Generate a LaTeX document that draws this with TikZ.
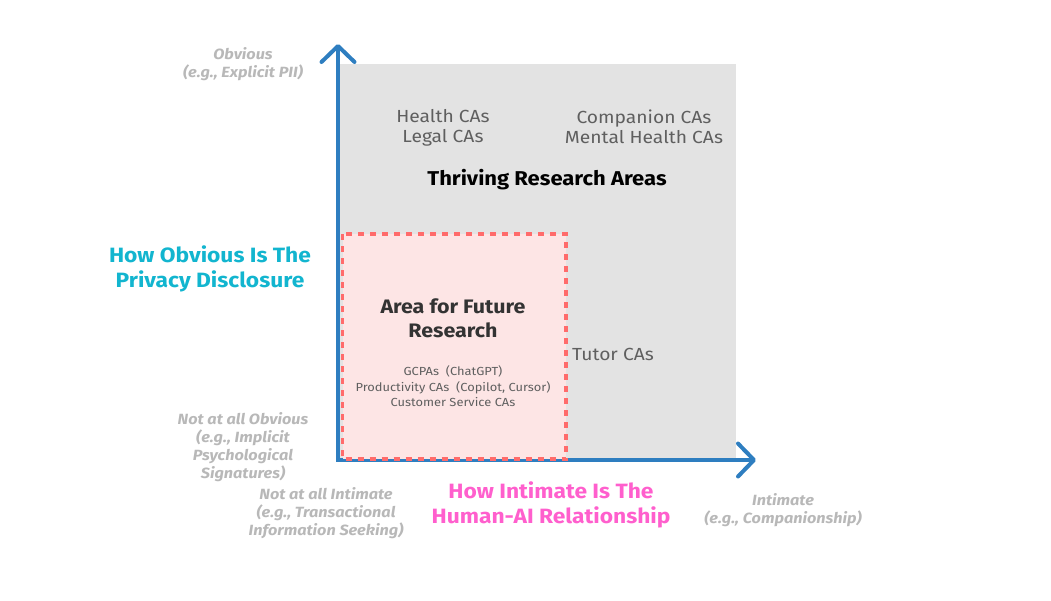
\documentclass[tikz,border=0pt]{standalone}
\usepackage{fontspec}
\setmainfont{Fira Sans}[FakeStretch=1.1]
\usetikzlibrary{arrows.meta}
\definecolor{axisblue}{HTML}{2E7EC0}
\definecolor{areagray}{HTML}{E3E3E3}
\definecolor{futurepink}{HTML}{FDE5E5}
\definecolor{dashred}{HTML}{FF6B6B}
\definecolor{hinttext}{HTML}{B8B8B8}
\definecolor{cyantitle}{HTML}{12B5CF}
\definecolor{pinktitle}{HTML}{FF5FCD}
\definecolor{catext}{HTML}{5F5F5F}
\tikzset{
  axisline/.style={draw=axisblue, line width=4pt, -{Straight Barb[length=16pt,width=33pt,round]}},
  hint/.style={text=hinttext, font=\fontsize{14.8}{18}\selectfont\bfseries\itshape, align=center, inner sep=0pt},
  axistitle/.style={font=\fontsize{20.7}{25}\selectfont\bfseries, align=center, inner sep=0pt},
  catag/.style={text=catext, font=\fontsize{17.5}{20}\selectfont, align=center, inner sep=0pt},
  smallcat/.style={text=catext, font=\fontsize{11.7}{15.5}\selectfont, align=center, inner sep=0pt},
}
\begin{document}
\begin{tikzpicture}[x=1pt,y=-1pt]
\useasboundingbox (0,0) rectangle (1051,600);
% regions
\fill[areagray] (339,64) rectangle (736,459);
% axes
\coordinate (origin) at (338,461);
\coordinate (ytip) at (338,44);
\coordinate (xorigin) at (336,460);
\coordinate (xtip) at (756,460);
\draw[axisline] (origin) -- (ytip);
\draw[axisline] (xorigin) -- (xtip);
\filldraw[fill=futurepink, draw=dashred, line width=3.2pt, dash pattern=on 6pt off 6pt] (342.5,234) rectangle (566,459);
% axis end labels
\node[hint] (obv) at (243,64) {Obvious\\(e.g., Explicit PII)};
\node[hint] (notobv) at (243,447) {Not at all Obvious\\(e.g., Implicit\\Psychological\\Signatures)};
\node[hint] (notint) at (326,513) {Not at all Intimate\\(e.g., Transactional\\Information Seeking)};
\node[hint] (intim) at (783,510) {Intimate\\(e.g., Companionship)};
% axis titles
\node[axistitle, text=cyantitle] (ytitle) at (210,268.5) {How Obvious Is The\\Privacy Disclosure};
\node[axistitle, text=pinktitle] (xtitle) at (551,504.5) {How Intimate Is The\\Human-AI Relationship};
% categories
\node[catag] (health) at (443,128) {Health CAs\\Legal CAs};
\node[catag] (companion) at (644,126.5) {Companion CAs\\Mental Health CAs};
\node[font=\fontsize{20}{22}\selectfont\bfseries, inner sep=0pt] (thriving) at (547,180) {Thriving Research Areas};
\node[font=\fontsize{19.5}{24}\selectfont\bfseries, text=black!80, align=center, inner sep=0pt] (future) at (453,318) {Area for Future\\Research};
\node[smallcat] (gcpa) at (453,386.5) {GCPAs\ \ (ChatGPT)\\Productivity CAs\ \ (Copilot, Cursor)\\Customer Service CAs};
\node[catag, anchor=west] (tutor) at (572,354) {Tutor CAs};
\end{tikzpicture}
\end{document}
